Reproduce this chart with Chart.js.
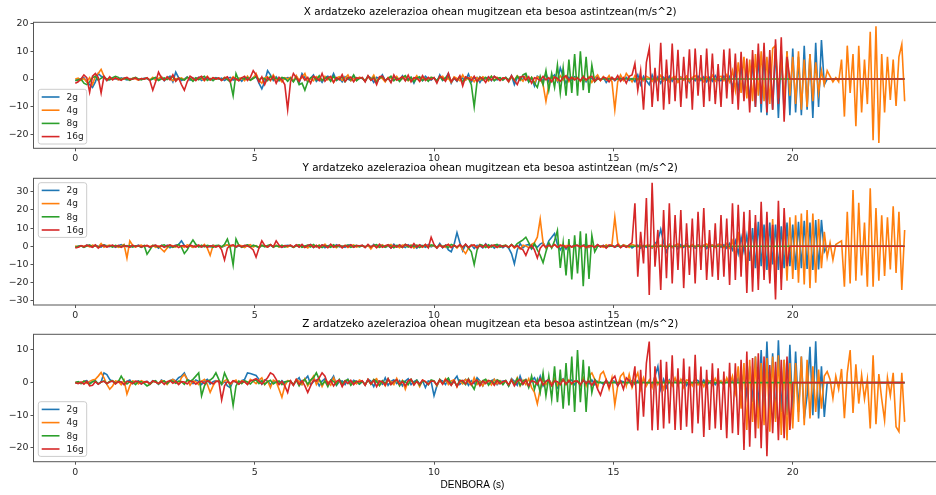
<!DOCTYPE html>
<html>
<head>
<meta charset="utf-8">
<script src="https://cdn.jsdelivr.net/npm/chart.js@4.4.0/dist/chart.umd.min.js"></script>
<style>
  html, body { margin: 0; padding: 0; background: #fff; overflow: hidden; }
  #figure { position: relative; width: 960px; height: 495px; }
  #figure canvas { position: absolute; left: 0; top: 0; }
</style>
</head>
<body>
<div id="figure">
  <canvas id="panel-x" width="960" height="495"></canvas>
  <canvas id="panel-y" width="960" height="495"></canvas>
  <canvas id="panel-z" width="960" height="495"></canvas>
</div>
<script>
// sampling step of the recordings (s); every series has 290 samples, 0 .. 23.12 s
const DT = 0.08;
const N = 290;
const time = Array.from({ length: N }, (_, i) => +(i * DT).toFixed(2));

const seriesLabels = ['2g', '4g', '8g', '16g'];
const xTicks = [0, 5, 10, 15, 20];
const yTicksX = [-20, -10, 0, 10, 20];
const yTicksY = [-30, -20, -10, 0, 10, 20, 30];
const yTicksZ = [-20, -10, 0, 10];

// X axis acceleration, one row = 2 s
const x2g = [
  -.5,-.3,0,.5,-1, -2,-3,-1,2,1, .5,-.5,0,.3,0, -.2,.4,0,-.3,.2, 0,.5,-.2,0,.3,
  .2,-.4,0,.5,-.3, .8,-.6,.3,1,-1, 2.5,.5,-.5,0,.8, -.4,.3,0,.6,-.5, .2,.4,-.3,0,.5,
  0,.3,-.5,.2,.6, -.4,0,.3,-.8,.5, 0,-.3,.6,1,-1.5, -3.5,-1,3,1.5,-.5, .8,-.6,.3,0,.5,
  .4,-.6,1,-1.5,2, .5,-1,.3,1.5,-.8, .2,-1.2,.6,1,-.4, 2,-.5,.3,-1,.8, 0,-.6,1.2,-.3,.4,
  .2,-.8,1,.4,-1.2, .6,0,1.5,-.6,.3, -1,.8,.2,-.5,1.2, -.4,0,.6,-1.5,.8, .3,-.6,1,0,-.4,
  .5,-1,1.5,-.5,.3, 2,-1.5,.4,-.8,1, .2,-.4,1.8,-1,.3, .6,-1.2,.5,0,.8, -.6,1,-.3,.4,-.2,
  .6,-1,1.2,-2,.5, .8,-.4,1.5,-1,.3, -2.5,1,.4,-.6,2, -1,.5,1.5,-.8,4, 1,-1.5,.6,-.4,.8,
  .3,-.6,.8,-1,.5, .2,-.8,1,-.4,.6, -1.2,.3,.5,-.6,.2, .4,-.3,.6,-.5,.2, -1,1.5,-2,1,-.6,
  -2,1.5,-1,.8,-1.5, .6,-.4,1,-.8,.5, -1,.7,-.3,.9,-1.2, .4,-.6,1,-.5,.8, -1,.6,-.8,1.2,-.5,
  -.6,1,-1.2,.8,-3, 2.5,-4,5,-6,4, -8,7,-10,9,-12, 10,-13,8,-11,11, -14,9,-12,10,-13,
  11,-12,8,-13,12, -11,9,-14,13,-10, 14,-2,0,0,0, 0,0,0,0,0, 0,0,0,0,0,
  0,0,0,0,0, 0,0,0,0,0, 0,0,0,0,0
];
const x4g = [
  0,.3,-.5,.2,-1, .5,-2,1,2,3.5, 1,-.5,.3,0,.4, -.3,.2,0,.5,-.2, .3,0,-.4,.2,0,
  .4,-.3,.6,-.5,.2, .8,-.4,.3,.5,-.6, .2,0,.4,-.3,.6, .2,-.5,.4,0,.3, -.6,1,-.3,.5,0,
  .3,-.5,.6,0,-.4, .8,-.3,.2,.5,-.6, 1,-.4,.3,2,-.5, -1.5,.4,.8,-.6,1.5, -.3,.2,-1,.5,0,
  .6,-.8,1.2,-.4,.5, 2,-1,.3,-.6,.9, .2,-.5,1,-.3,.6, -1.2,.4,.8,-.5,.3, 1.5,-.6,.2,-.4,.7,
  .3,-.6,.9,-.2,1.4, -.8,.5,.2,-1,.6, .3,-.4,1,-.5,.2, .8,-.6,.4,-.2,1.2, -.8,.5,.2,-.4,.6,
  .4,-.8,.6,1,-.5, .3,-1.2,.8,.2,-.6, 1.5,-.4,.3,.7,-1, .5,-.3,.8,.2,-.7, 1,-.4,.6,-.2,.3,
  .5,-1,.8,-.4,1.2, .3,-.8,1,-.5,.6, -1.5,.8,.4,-2,-8, -2,1,.5,-.6,1.2, -.4,.8,-1,.6,.3,
  .6,-.8,1,-.5,.8, -1.2,.4,1.5,-.6,.9, -.3,1.2,-1,-11,-1, 1.5,-.5,2,.6,-1, 1.2,-.4,.8,-.6,1,
  .4,-.8,1,-.5,1.3, -.6,.8,-1,.5,.9, -1.2,.6,-.4,1,-.8, .5,1.2,-.6,.4,-1, .8,-.5,1.4,-.8,.6,
  1,-.6,1.5,-1,3, -4,6,-5,8,-7, 7,-8,9,-6,10, -8,8,-9,11,12, -7,9,-8,10,-6,
  8,-9,10,-11,7, -10,9,-8,6,-5, 3,-2,3,1,-1, .5,-1,7,-13.5,12, -5,9,-17,12,-12,
  7,-9,17,-22,19, -23,9,-12,8,-7.5, 7,-9.7,8,12.5,-8
];
const x8g = [
  -.5,-.3,0,-1.5,-2, -1,.5,1,-.5,.3, .8,0,-.3,.5,1, .6,-.2,.3,0,-.5, .2,.6,0,-.3,.2,
  .3,-.4,.2,.6,-.5, 0,.4,-.2,.5,.8, -.6,.3,0,-.4,.6, .2,-.8,.4,-.3,.5, 1,-.5,.2,-.6,.3,
  .2,-.3,.5,-.2,-1, -6,2,-.5,.3,0, .6,-.4,.2,.8,-.3, .5,0,-.6,1,-.2, .4,-.5,.6,.3,-.8,
  .4,-1,.6,-2,-1.5, -4,-1,.5,.8,-.3, 1.2,-.5,.3,.6,-.8, 1,-.4,.2,.7,-1, .5,-.3,1.5,-.6,.2,
  .5,-.8,1,-.3,.6, -1.2,.4,.8,-.5,.2, 1,-.6,.3,-.9,.5, 1.2,-.4,.6,-1,.3, .8,-.5,.2,-.8,.6,
  .3,-.6,.9,-.4,.5, 1,-.8,.3,-.5,.7, -1,.4,.2,-2,-10, -1,.8,-.4,.6,-.3, 1,-.6,.2,.5,-.4,
  .5,-.3,.8,-.6,1, -.4,1.5,2,-1,.6, -1.5,-3,1,-2,3, -4,2,-3,5,-5, 4,-6,7,-5,9,
  -6,10,-4,8,-5, 5,-1,0,0,0, 0,0,0,0,0, 0,0,0,0,0, 0,0,0,0,0,
  0,0,0,0,0, 0,0,0,0,0, 0,0,0,0,0, 0,0,0,0,0, 0,0,0,0,0,
  0,0,0,0,0, 0,0,0,0,0, 0,0,0,0,0, 0,0,0,0,0, 0,0,0,0,0,
  0,0,0,0,0, 0,0,0,0,0, 0,0,0,0,0, 0,0,0,0,0, 0,0,0,0,0,
  0,0,0,0,0, 0,0,0,0,0, 0,0,0,0,0
];
const x16g = [
  -1.5,-1,0,1.5,.5, -4.7,1,2,.5,-5, 1,-.5,.8,-.3,.4, 0,-.5,.3,.6,-.2, 0,.4,-.3,.2,0,
  .5,-.6,-4,-1,2.5, .4,-.5,.8,-.3,1.5, -.8,.4,-2,-4,-1, 1,.3,-.6,.5,1, -.4,.8,-.3,.5,0,
  .4,-.5,.3,.8,-1, .5,0,-.6,.4,1, -.5,.6,3,1.5,-1, .8,-2,.5,-.4,1, -1.5,.6,-.3,-2,-11,
  -1,2,.5,-.8,1.2, -.4,.6,-1.5,1,.3, -.6,2,-.8,.4,1, -1.2,.5,-.3,1.6,-.9, .3,.7,-1,.5,.2,
  .6,-1,1.2,-.5,.3, -2,.8,1,-.6,.4, -1.3,1.5,-.4,.2,.9, -.7,1.4,-1,.5,.3, -.8,1.2,-.5,.6,-.2,
  .5,-1.5,1,.3,-.8, 2,-1,.4,-.6,1.2, -2.5,.8,.3,-.5,1, -.9,.6,.2,-1.2,.8, -.4,1,.3,-.6,.4,
  .3,-.8,1.2,-.5,-2, .6,1,-.4,.8,-1.5, .5,.2,-.6,1,-.3, .5,-1,.7,.2,-.8, .5,1.2,-.4,.6,-.3,
  .4,-.6,.8,-.3,.5, 1,-.8,.4,-.5,.7, .3,-1,.6,-.4,1.2, -.8,.5,-1.5,1,1.5, 5.6,-4,3,-11,6,
  11,-10,4,-8,13, -11,7,-9,12.8,-8, 10.5,-10,8,-7,10.7, -11,11,-6,8.6,-10, 11,-8,9.2,-9,5.4,
  -10,10.6,-7,11,-9, 9.2,-11,9.8,-8,7.4, -12,10.4,-10,12.8,-9, 13,-12,10.4,-11,14.3, -9,15,-15.3,8,0,
  0,0,0,0,0, 0,0,0,0,0, 0,0,0,0,0, 0,0,0,0,0, 0,0,0,0,0,
  0,0,0,0,0, 0,0,0,0,0, 0,0,0,0,0
];

// Y axis acceleration
const y2g = [
  -.5,0,.3,-.4,.6, .2,-.3,.5,0,-.4, .8,.3,-.2,.5,-.6, .3,.9,-.2,.4,-.5, .2,0,.6,-.3,.2,
  .3,-.6,.2,.5,-1, .4,-.3,.6,-.8,.2, .5,1,3,.5,-.4, .3,-.6,.8,.2,-.5, .4,0,-.3,.6,-.2,
  .4,-.5,.2,.8,-.3, .5,-.6,.3,.2,-.4, .7,-.2,.5,0,-.8, .4,.3,-.5,.6,-.2, .4,.1,-.6,.3,.5,
  .2,-.4,.6,-.3,.8, -.5,.3,1,-.6,.4, -.2,.7,-.8,.3,.5, -.4,.9,-.3,.2,-.6, .5,.8,-.4,.3,-.1,
  .5,-.3,.6,-.8,1, -.4,.3,.7,-.6,.2, -.9,1.2,-.4,.5,.3, -.7,.8,-.2,.4,-1, .6,.3,-.5,.9,-.3,
  .4,-1,1.5,-.8,.6, -2,-3,1,7.5,2, -2.5,1,-.6,.8,-1.2, .5,.3,-.9,1.4,-.5, .7,-1,.4,.6,-.8,
  .5,-1,-4,-9.7,-2, 1.5,-.8,.6,1,-1.5, .8,-.5,1.2,2,-1, 3,5,7,1,-2, .8,-1.5,.6,-.3,.9,
  .4,-.8,.5,1,-.6, .3,-.4,.8,-.2,.5, -.7,.3,.6,-.5,.2, -.3,.8,-.4,.5,-.9, .3,.6,-1,.4,-.6,
  .5,-1,1.5,3,9.4, 2,-3,1,-.8,.6, -1.5,.9,-.6,1.2,-.4, .5,-1,.8,-.3,.6, -1.2,.4,.7,-.5,1,
  -.5,.8,-1,1.5,-2, 3,-4,5,-3,6, -8,10,-12,13.5,-11, 12,-13,13,-10,12, -13,11,-12,13,-11,
  12,-13,13.5,-12,14, -12.5,13,-13,14.5,-12.8, 14.5,-3,0,0,0, 0,0,0,0,0, 0,0,0,0,0,
  0,0,0,0,0, 0,0,0,0,0, 0,0,0,0,0
];
const y4g = [
  .3,-.5,.2,0,.4, -.3,.6,.2,-.4,1.5, -.5,.3,.6,-.2,.4, -.6,.2,1,-6.5,3, .5,-.4,.3,.6,-.2,
  .4,-.3,.5,-.6,.2, -1.5,-3,-1,.5,.3, -.4,.6,.2,-.5,.8, .3,-.6,.4,.2,-.3, 1,-1,-5,.5,.3,
  .2,-.5,.4,.8,-.3, .5,-.2,.6,.3,-.7, .4,.9,-.4,.3,-.6, .5,.2,-.4,1,-.3, .6,-.5,.3,.2,-.4,
  .5,-.6,.3,.8,-.4, .2,-.9,.5,.4,-.3, .7,-.5,1.2,-.6,.3, .4,-.8,.6,-.2,.5, -.7,.3,.8,-.4,.2,
  .4,-.3,.6,-1.5,.5, .2,-.6,.8,-.4,.3, 1,-.5,.2,-.8,.6, .4,-.3,.7,-1,.5, .3,-.6,.9,-.2,.4,
  .3,-.8,.5,.2,-.6, 1,-.4,.6,-1,.8, -2,-4,-1,.6,.3, -.5,.8,-.3,.4,-.7, .5,.2,-.6,.4,.3,
  .5,-.4,.8,-1,.3, -1.5,.6,.2,-.8,1, 2,5,15,2,-1, .6,-.5,1,-.3,.8, -.6,.4,.3,-.5,.6,
  .4,-.6,.3,.5,-.4, .7,-.3,.5,.2,-.6, .8,-.2,1,16,2, -.5,.8,.3,-.6,1, .5,-.4,.8,-.3,.6,
  .5,-.8,1,-.4,.6, .3,-.7,.9,-.5,.4, 1.2,-.6,.3,.8,-.5, 1,-.3,.6,-.9,.5, 1.3,-.4,.7,-.6,.9,
  1,-.8,1.5,-1,3, -6,8,-10,12,-15, 14,-17,13,-18,15, -16,12,-19,15,-17, 14,-18,13,-19,16,
  -18,17,-20,18,-21, 20,-23,18,-20,15, -12,8,-6,2,-7.5, 1,2,3,-22.3,19, -20.5,31,-19,24,-16,
  13,-22.3,31.9,-22.3,21, -19,17,-16.3,16,-12.8, 22,-14.7,19,-24,9
];
const y8g = [
  -.5,0,.3,-.6,.2, .8,-.3,.4,-.5,.2, .6,-.2,.3,-.4,.5, 0,-.3,.6,-.2,.4, -.5,.3,.2,-.6,.4,
  -4.4,-2,.5,.3,-.6, .4,.8,-.3,.5,-.6, .2,1,-.5,-4,-2, 1,3.5,1,-.4,.6, -.3,.5,.2,-.6,.4,
  .5,-.3,1,4,-1, -10.3,4,.5,-.6,.3, .8,-.4,.5,.2,-.7, .6,-.3,.4,.9,-.5, .3,-.2,.6,-.4,.3,
  .4,-.6,.3,.8,-.5, .2,.6,-.4,1,-.3, .5,-.7,.4,.2,-.5, .8,-.3,.6,-.4,.3, .7,-.6,.2,.5,-.3,
  .3,-.5,.6,-.2,.4, .9,-.6,.3,-.4,.7, .2,-.8,.5,.3,-.6, 1,-.4,.5,-.2,.6, -.7,.4,.3,-.5,.8,
  .4,-.6,.8,-.3,.5, -.7,1,.3,-.5,.6, -.4,.8,-1,-3,-10.1, -2,1,.5,-.6,.8, -.4,.6,1,-.5,.3,
  .5,-.8,1,-.4,1.5, 2.5,3.5,5,2,-1, 1.5,-2,-5,-9,-3, 2,-1,3,8.6,-11.9, 2,-16,4,-18.3,6,
  -15,8.2,-22,7,-18, 6,-3,0,0,0, 0,0,0,0,0, 0,0,0,0,0, 0,0,0,0,0,
  0,0,0,0,0, 0,0,0,0,0, 0,0,0,0,0, 0,0,0,0,0, 0,0,0,0,0,
  0,0,0,0,0, 0,0,0,0,0, 0,0,0,0,0, 0,0,0,0,0, 0,0,0,0,0,
  0,0,0,0,0, 0,0,0,0,0, 0,0,0,0,0, 0,0,0,0,0, 0,0,0,0,0,
  0,0,0,0,0, 0,0,0,0,0, 0,0,0,0,0
];
const y16g = [
  -1,-.5,.4,-.3,.6, .2,-.5,.8,-1,.3, .5,-.4,.2,.6,-.3, .5,-.6,.3,.2,-.5, .6,-.2,.4,-.3,.2,
  .5,-.4,.2,.6,-.3, .4,-.6,.3,.8,-.2, .5,-.7,.3,.4,-.5, .6,.2,-.4,.7,-.3, .5,-.6,.3,.2,-.4,
  .3,-2,-7.5,-1,.5, .8,-.4,.6,-.3,.5, .2,-.6,-2,-6,-1, 3,.5,-.4,.8,-.3, 3,.6,-.5,.4,.2,
  .6,-.4,.8,-.5,1, -.7,.4,.9,-.6,.5, -1,.7,.3,-.8,1.2, -.5,.4,.6,-.9,.5, -.3,.8,-.6,.4,.3,
  .5,-.7,1,-.4,.6, -.8,1.2,-.5,.3,.9, -1,.6,-.4,.8,-.6, 1,.4,-.7,1.5,-.5, .8,-.4,1,-.8,5,
  1,-1,.8,-.6,.5, 1,-.8,.6,-.4,.9, -.5,1.2,-.7,.4,.8, -1,.6,-.5,1,-.8, .3,.7,-.6,.5,-.3,
  .4,-.6,.8,-.5,.3, -1,-2,-5,-1,.5, -2,-6.4,-1,.8,-.5, .6,-.3,1,-.6,.4, .5,-.8,.6,-.4,.3,
  .5,-.3,.6,-.8,.4, .2,-.6,.9,-.4,.5, -1,.7,.3,-.5,1, -.8,.4,-.6,.8,2, 23.7,-16.7,8,-9.4,26.6,
  -26.8,35,-11.2,9,-24, 20,-17.6,23.7,-20.4,17.2, -13,20,-23,12.7,-15.8, 15.3,-20.4,19,-13,21, -18.5,9,-16.7,12.7,-18.5,
  17.2,-16.7,15.3,-21.3,23.7, -18.5,22.8,-16.7,19,-25.7, 20,-25,17.2,-24,24.5, -18.5,19,-20.4,11.8,-29.2, 25,-24,21,-11,0,
  0,0,0,0,0, 0,0,0,0,0, 0,0,0,0,0, 0,0,0,0,0, 0,0,0,0,0,
  0,0,0,0,0, 0,0,0,0,0, 0,0,0,0,0
];

// Z axis acceleration
const z2g = [
  0,.2,-.3,.4,.6, -.2,.3,.5,-.4,.2, 3,2.5,1,.4,-.3, .5,.2,-.6,.4,.8, -.3,.2,.5,-.4,.3,
  .4,-.3,.6,.2,-.5, .8,.3,-.4,.6,1, .5,1.5,2,3,1, .5,-.3,.8,.4,-.6, .5,1,-.4,.3,.6,
  .3,-.5,.4,-1,-1.5, .5,.2,-.4,.6,1, 3,2.8,2.5,2.2,1, -.5,.8,.5,-.6,.3, .2,-.4,.6,-.3,.5,
  .5,-.8,.6,1.5,-.5, 1,2,-.6,.3,.8, -1,.5,1.2,-.4,.6, 2,-.8,.3,.5,-.6, 1,-.3,.7,.2,-.5,
  .4,-.6,1,.5,-1.2, .8,.3,-.5,1.5,-.8, .4,.9,-.3,.6,-1, .5,1.2,-.6,.3,.8, -.4,.6,-1.5,.5,.3,
  -4,-1,.8,.5,-.6, 1.2,-.4,.8,2,-.5, .3,1,-.8,.6,-.3, 1.5,.5,-1,.8,-.4, .6,1,-.6,.3,.5,
  .6,-1,1.2,.4,-.8, 2,-.5,.8,-1.2,.6, 1.5,-.6,2,-1,.5, 1,-.4,.8,-1.5,.6, 1.2,-.5,.3,.8,-.6,
  .5,-.8,.6,.3,-.4, .8,-.6,.4,.2,-.5, .7,-.3,.6,.4,-.8, .5,.3,-.6,1,.4, -.5,.6,-.3,.8,-.6,
  .5,-1,2,5,-2, 1,-1.5,.8,-.6,1, -.4,.6,1.2,-.8,.5, -.3,1,.6,-.5,.8, -1,.4,.7,-.6,.5,
  .3,-.6,1,-.4,.8, -1,1.5,-2,3,-4, 5,-6,8,-8,10, -10,12.6,-9,9,-11, 13,-9,7,-10,11.6,
  -10,9.5,-9,8,-11, -4,11,-10,12.7,-11, 5,-10.5,0,0,0, 0,0,0,0,0, 0,0,0,0,0,
  0,0,0,0,0, 0,0,0,0,0, 0,0,0,0,0
];
const z4g = [
  0,.2,-.3,.5,-.2, .4,.8,1,2,3.1, 1.5,-.5,-2,-1,.5, .3,-.6,.8,-3.5,-1, .5,.3,-.4,.6,.2,
  .3,-.5,.4,.2,-.3, .6,.4,-.6,.5,1, .3,-.4,1.5,2.5,1, -.8,.5,.3,-.6,.4, 1,-.5,-3,-1,.5,
  .4,-.3,.5,1,-.6, .3,.8,-.4,.6,.2, -.5,1,.4,-.3,.7, 1.5,-.6,.5,-1.5,.8, .3,-2,-4.5,-1,.6,
  .5,-.8,1,.4,-.6, 1.2,-1,.5,2,-.6, 1,-1.2,.6,.3,-.8, 1.5,-.4,.7,-1,.5, .9,-.6,.3,-.4,.8,
  .4,-.7,1,-.5,.6, 1.2,-.8,.5,-1,.8, .3,-.6,1.3,-.5,.7, -2,.4,.9,-.6,.5, -1.2,.8,.3,-.5,.6,
  .5,-1,.8,-.4,1.2, -.6,.5,.9,-1.3,.6, -.4,1,.3,-.8,1.5, -.6,.4,-1,.8,.5, -.7,1,-.4,.6,-.3,
  .6,-.8,1,-.5,1.5, -1,.8,-.6,1.2,-1.5, -3,-6.5,-2,1,-.6, .9,-.4,1.2,-.8,.5, 1,-.6,.8,-.5,.4,
  .5,-.8,1.5,-1,2, 3,1,-1.5,2.5,3.4, 1,-2,1.5,-6.8,-1, 2,3,-1,2.5,-1.5, 1,3,-2,1.5,-1,
  .8,-1.5,2,-.6,1.2, -2,1,.5,-1,1.5, -.8,1,-1.5,.8,.6, -1,1.4,-.7,.5,-1.2, 1,.3,-.8,1.3,-.5,
  .6,-1,1.5,-.8,2, -3,5,-8,6,-14.5, 7,-12,8,-14,6, -13,7.5,-15,8,-12, 8.4,-16,7,-17.6,6,
  -14,6,-12,8,-13, 7,-11,5,-9,4, -8,2,3.4,1,-4.8, 2,-2,4.2,-10.9,3, 10,-9.3,5.6,-6.4,2.3,
  -5,1,-14,8.4,-12.7, 2.6,-5,-11.5,1.5,-4, 3,-13.5,-15,3,-12
];
const z8g = [
  0,.3,-.2,.4,.2, -.5,.3,.6,-.4,.2, .5,-.3,.4,.6,-.2, .3,2,.5,-.4,.3, .2,-.6,.4,.3,-.2,
  -1,-.5,.3,.6,-.4, .2,.5,-.3,.6,.4, -.2,.5,.3,-.5,.8, .4,1,2,3,-4, -1,.5,.8,1.5,3,
  1,-.5,3,1,-1, -7,-1,.5,-.3,.6, .2,-.4,.5,.8,-.3, .6,-.5,.3,.7,-.4, .2,.5,-.6,.3,.4,
  .5,-.6,.8,-1,.4, 1,-.5,.8,1.5,3, 1,-.6,.5,-1.2,.8, .4,-.7,1,-.4,.6, .9,-.8,.3,.5,-.4,
  .4,-.7,.8,-.4,1, .3,-.9,.6,-.3,1.2, -.5,.4,.8,-1,.5, .3,-.6,1,-.4,.7, -.8,.5,.3,-.6,.8,
  .5,-.8,1,-.3,.6, 1.4,-.7,.4,-1,.8, .3,-.6,1.2,-.5,-2, .8,-.4,.6,1,-.8, .5,-.3,.9,.4,-.6,
  .6,-1,.8,-.5,1.2, -.8,.5,1,-1.5,2, -2,1,-3,3,-4, 2,-5,5,-6,4, -8,6,-7,8,-9,
  10,-6,7,-9,5, -3,1,0,0,0, 0,0,0,0,0, 0,0,0,0,0, 0,0,0,0,0,
  0,0,0,0,0, 0,0,0,0,0, 0,0,0,0,0, 0,0,0,0,0, 0,0,0,0,0,
  0,0,0,0,0, 0,0,0,0,0, 0,0,0,0,0, 0,0,0,0,0, 0,0,0,0,0,
  0,0,0,0,0, 0,0,0,0,0, 0,0,0,0,0, 0,0,0,0,0, 0,0,0,0,0,
  0,0,0,0,0, 0,0,0,0,0, 0,0,0,0,0
];
const z16g = [
  0,-.3,.2,-.5,.4, -1,-.8,.3,-.5,.2, .4,-.3,.2,.5,-.4, .3,.2,-.6,.4,.2, -.3,.5,.3,-.4,.2,
  .3,-.4,.5,.2,-.3, .4,-.5,.3,.6,-.2, .4,-.6,.3,.2,-.4, .5,.3,-.5,.2,.4, -.3,.6,.2,-.4,.3,
  .5,-5.3,-1,.4,-.3, .6,.2,-.5,.4,.3, -.6,.5,.8,1.2,.5, -.4,.6,1.5,3,2.5, 1,-.6,.4,-1,-3,
  .5,-.8,1,-.5,.6, -1,-3,-1,.8,.5, 1.5,3,2,-.5,.6, -1,.4,.8,-1.2,.5, -.3,.7,-.6,.4,.2,
  .6,-.8,1,-.4,.7, -1.2,.5,.3,-.8,1.2, -.6,.4,.9,-.5,.3, -1,.6,1,-.7,.4, -.5,.8,.3,-.6,.5,
  .4,-.7,.9,-.5,1, .3,-.8,.6,-1.2,.5, .7,-.4,1,-.6,.3, .8,-1,.5,-.3,.7, .4,-.8,.6,-.4,.3,
  .5,-.6,.8,-1,.4, 1,-.5,.7,-.9,.6, .3,-.5,1.2,-.7,.4, .8,-1,.5,.3,-.6, .9,-.4,.6,-.3,.5,
  .4,-.6,.8,-.3,.5, -.8,.6,-2,-3.8,-1, .8,-1.5,1,2,-1, .5,-2,1.5,.6,-1, 5,-14.6,3.9,-10.4,6,
  12.6,-14.6,5,-14.5,7, -14,6.4,-12.5,8.4,-14.5, 4.4,-14.5,7.4,-13.5,4.9, -15.5,8.5,-12.5,4.9,-16.6, 3.9,-14.5,5.9,-14,4.4,
  -14.5,3.4,-17,6.1,-15.5, 5.9,-16,7,-20.6,9.5, -19.6,7.5,-17,9,-20.1, 8,-22.5,5.4,-15.5,6.4, -17.6,7,-17,8,-14.5,
  0,0,0,0,0, 0,0,0,0,0, 0,0,0,0,0, 0,0,0,0,0, 0,0,0,0,0,
  0,0,0,0,0, 0,0,0,0,0, 0,0,0,0,0
];

const colors = ['#1f77b4', '#ff7f0e', '#2ca02c', '#d62728'];
const TICK_FONT = { family: 'DejaVu Sans', size: 9.4 };
const INK = '#262626';
const SPINE = '#555';

// figure geometry (px): the axes run past the right edge of the window, as in the source
const X_MIN = -1.165;
const X_MAX = 24.3;
const PLOT_LEFT = 33.5;
const PLOT_RIGHT = 947;
const X_AXIS_H = 20;

const panels = [
  {
    id: 'panel-x',
    title: 'X ardatzeko azelerazioa ohean mugitzean eta besoa astintzean(m/s^2)',
    series: [x2g, x4g, x8g, x16g],
    top: 22.3, bottom: 148.3, yMin: -24.9, yMax: 20.4, yTicks: yTicksX,
    legendTop: 89.3
  },
  {
    id: 'panel-y',
    title: 'Y ardatzeko azelerazioa ohean mugitzean eta besoa astintzean (m/s^2)',
    series: [y2g, y4g, y8g, y16g],
    top: 178.3, bottom: 305, yMin: -32.3, yMax: 37.4, yTicks: yTicksY,
    legendTop: 182.7
  },
  {
    id: 'panel-z',
    title: 'Z ardatzeko azelerazioa ohean mugitzean eta besoa astintzean (m/s^2)',
    series: [z2g, z4g, z8g, z16g],
    top: 334.3, bottom: 461.7, yMin: -24.2, yMax: 14.8, yTicks: yTicksZ,
    legendTop: 401.7,
    xLabel: 'DENBORA (s)'
  }
];

// spines, title, legend box and x label, drawn the way matplotlib lays them out
const figureDecor = {
  id: 'figureDecor',
  afterDraw(chart, args, opts) {
    const { ctx, chartArea } = chart;
    ctx.save();

    ctx.strokeStyle = SPINE;
    ctx.lineWidth = 1;
    ctx.strokeRect(chartArea.left, chartArea.top, chartArea.right - chartArea.left, chartArea.bottom - chartArea.top);

    ctx.fillStyle = '#000';
    ctx.font = '10.4px "DejaVu Sans"';
    ctx.textAlign = 'center';
    ctx.textBaseline = 'middle';
    ctx.fillText(opts.title, (chartArea.left + chartArea.right) / 2, chartArea.top - 10);

    const bx = 38.3, by = opts.legendTop, bw = 48.4, bh = 54.7;
    ctx.beginPath();
    ctx.roundRect(bx, by, bw, bh, 2.5);
    ctx.fillStyle = 'rgba(255,255,255,0.8)';
    ctx.fill();
    ctx.strokeStyle = '#cccccc';
    ctx.lineWidth = 1;
    ctx.stroke();

    ctx.font = '9px "DejaVu Sans"';
    ctx.textAlign = 'left';
    chart.data.datasets.forEach((ds, i) => {
      const ly = by + 7.7 + i * 13.2;
      ctx.strokeStyle = ds.borderColor;
      ctx.lineWidth = 1.6;
      ctx.beginPath();
      ctx.moveTo(41.7, ly);
      ctx.lineTo(59.5, ly);
      ctx.stroke();
      ctx.fillStyle = INK;
      ctx.fillText(ds.label, 66.5, ly + 0.5);
    });

    if (opts.xLabel) {
      ctx.fillStyle = '#000';
      ctx.font = '10px "Liberation Sans"';
      ctx.textAlign = 'center';
      ctx.fillText(opts.xLabel, 472.5, 485);
    }
    ctx.restore();
  }
};

const minusSign = v => String(v).replace('-', '\u2212');

panels.forEach((p) => {
  const datasets = p.series.map((vals, i) => ({
    label: seriesLabels[i],
    data: vals.map((v, k) => ({ x: time[k], y: v })),
    borderColor: colors[i],
    borderWidth: 1.6,
    pointRadius: 0,
    tension: 0,
    fill: false,
    order: seriesLabels.length - i
  }));

  new Chart(document.getElementById(p.id), {
    type: 'line',
    data: { datasets },
    options: {
      responsive: false,
      animation: false,
      events: [],
      layout: {
        padding: { left: 0, right: 960 - PLOT_RIGHT, top: p.top, bottom: 495 - p.bottom - X_AXIS_H }
      },
      scales: {
        x: {
          type: 'linear',
          min: X_MIN,
          max: X_MAX,
          afterFit: (s) => { s.height = X_AXIS_H; },
          afterBuildTicks: (s) => { s.ticks = xTicks.map(v => ({ value: v })); },
          grid: { drawOnChartArea: false, tickLength: 3, color: SPINE },
          border: { display: false },
          ticks: { font: TICK_FONT, color: INK, padding: 2, maxRotation: 0, autoSkip: false }
        },
        y: {
          min: p.yMin,
          max: p.yMax,
          afterFit: (s) => { s.width = PLOT_LEFT; },
          afterBuildTicks: (s) => { s.ticks = p.yTicks.map(v => ({ value: v })); },
          grid: { drawOnChartArea: false, tickLength: 3, color: SPINE },
          border: { display: false },
          ticks: { font: TICK_FONT, color: INK, padding: 2, callback: minusSign }
        }
      },
      plugins: {
        legend: { display: false },
        tooltip: { enabled: false },
        figureDecor: { title: p.title, legendTop: p.legendTop, xLabel: p.xLabel }
      }
    },
    plugins: [figureDecor]
  });
});
</script>
</body>
</html>
